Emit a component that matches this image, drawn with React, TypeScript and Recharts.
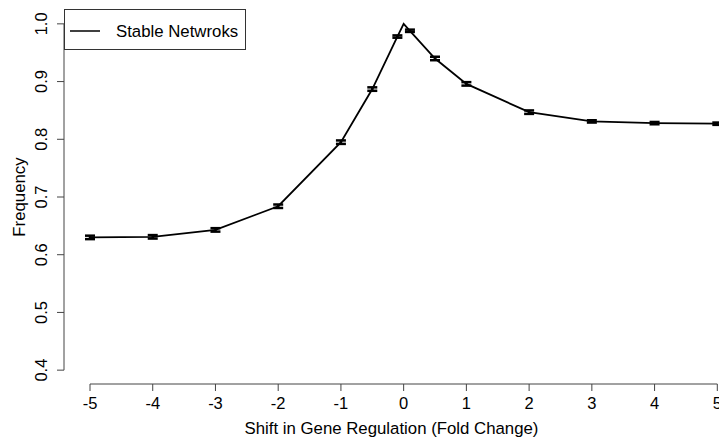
import {
  ComposedChart,
  Line,
  ErrorBar,
  XAxis,
  YAxis,
  Legend,
  ReferenceLine,
} from "recharts";

// fold-change shifts and the measured frequency of stable networks
const shifts = [-5, -4, -3, -2, -1, -0.5, -0.1, 0, 0.1, 0.5, 1, 2, 3, 4, 5];
const frequency = [
  0.630, 0.631, 0.643, 0.684, 0.795, 0.887, 0.978, 1.0, 0.988, 0.940, 0.896,
  0.847, 0.831, 0.828, 0.827,
];
const stdErr = [
  0.003, 0.003, 0.003, 0.003, 0.003, 0.003, 0.002, 0, 0.002, 0.003, 0.003,
  0.003, 0.002, 0.002, 0.002,
];
const xTicks = [-5, -4, -3, -2, -1, 0, 1, 2, 3, 4, 5];
const yTicks = [0.4, 0.5, 0.6, 0.7, 0.8, 0.9, 1.0];

const data = shifts.map((x, i) => ({ x, y: frequency[i], err: stdErr[i] }));

const FONT = "'Liberation Sans', Arial, sans-serif";
const AXIS = "#444";
const X_DOMAIN: [number, number] = [-5.4145, 5.027];
const Y_DOMAIN: [number, number] = [0.376, 1.024];

function XTick({ x, payload }: any) {
  return (
    <text x={x} y={408.5} textAnchor="middle" fontSize={16.5} fontFamily={FONT} fill="#000">
      {payload.value}
    </text>
  );
}

function YTick({ y, payload }: any) {
  const bx = 47;
  return (
    <text
      x={bx}
      y={y}
      transform={`rotate(-90, ${bx}, ${y})`}
      textAnchor="middle"
      fontSize={16.5}
      fontFamily={FONT}
      fill="#000"
    >
      {Number(payload.value).toFixed(1)}
    </text>
  );
}

function LegendBox() {
  return (
    <div
      style={{
        width: 182,
        height: 41,
        border: "1px solid #333",
        background: "#fff",
        boxSizing: "border-box",
      }}
    >
      <svg width={180} height={39} style={{ display: "block" }}>
        <line x1={5} y1={21} x2={35} y2={21} stroke="#000" strokeWidth={1.5} />
        <text x={51} y={26.5} fontSize={16.8} fontFamily={FONT} fill="#000">
          Stable Netwroks
        </text>
      </svg>
    </div>
  );
}

export default function App() {
  return (
    <div style={{ position: "absolute", left: 0, top: 0, background: "#fff" }}>
      <ComposedChart
        width={719}
        height={439}
        data={data}
        margin={{ top: 10, right: 0, left: 0, bottom: 0 }}
      >
        <XAxis
          dataKey="x"
          type="number"
          domain={X_DOMAIN}
          allowDataOverflow
          ticks={xTicks}
          interval={0}
          axisLine={false}
          tickLine={{ stroke: AXIS }}
          tickSize={7}
          height={55}
          tick={<XTick />}
          label={{
            value: "Shift in Gene Regulation (Fold Change)",
            position: "insideBottom",
            offset: 5,
            style: { fontSize: 16.8, fontFamily: FONT, fill: "#000" },
          }}
        />
        <YAxis
          type="number"
          domain={Y_DOMAIN}
          allowDataOverflow
          ticks={yTicks}
          interval={0}
          axisLine={false}
          tickLine={{ stroke: AXIS }}
          tickSize={7}
          width={64}
          tick={<YTick />}
          label={{
            value: "Frequency",
            angle: -90,
            position: "insideLeft",
            offset: 19,
            style: { fontSize: 16.8, fontFamily: FONT, fill: "#000", textAnchor: "middle" },
          }}
        />
        <ReferenceLine
          segment={[
            { x: X_DOMAIN[0], y: 0.4 },
            { x: X_DOMAIN[0], y: 1.0 },
          ]}
          stroke={AXIS}
          ifOverflow="visible"
        />
        <ReferenceLine
          segment={[
            { x: -5, y: Y_DOMAIN[0] },
            { x: 5, y: Y_DOMAIN[0] },
          ]}
          stroke={AXIS}
          ifOverflow="visible"
        />
        <Legend
          layout="vertical"
          align="center"
          verticalAlign="middle"
          content={<LegendBox />}
          wrapperStyle={{ left: 64, top: 9, width: 182 }}
        />
        <Line
          type="linear"
          dataKey="y"
          name="Stable Netwroks"
          stroke="#000"
          strokeWidth={1.8}
          dot={false}
          activeDot={false}
          isAnimationActive={false}
        >
          <ErrorBar dataKey="err" width={5} stroke="#000" strokeWidth={2.5} isAnimationActive={false} />
        </Line>
      </ComposedChart>
    </div>
  );
}
